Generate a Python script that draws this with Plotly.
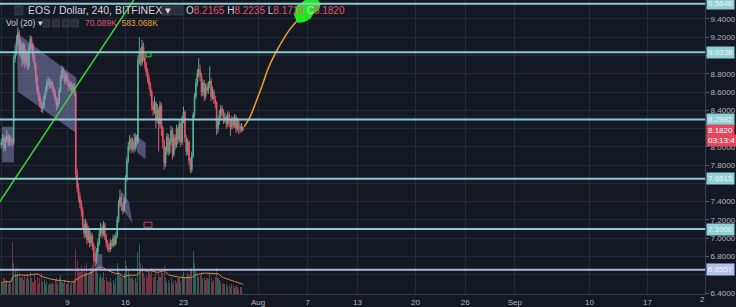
import pandas as pd
import plotly.graph_objects as go

# ---------------- data (4h candles, EOS/USD, BITFINEX) ----------------
start_time = "2018-07-01 00:00"
first_open = 8.02
closes = [
    8.05, 8.10, 7.99, 8.08, 8.12, 8.04,
    8.10, 8.06, 8.04, 8.97, 9.05, 9.15,
    9.25, 9.05, 9.12, 8.95, 9.10, 8.92,
    9.02, 8.88, 9.08, 9.18, 9.12, 8.98,
    8.90, 8.75, 8.62, 8.55, 8.48, 8.42,
    8.45, 8.55, 8.62, 8.70, 8.72, 8.68,
    8.70, 8.64, 8.60, 8.52, 8.45, 8.50,
    8.62, 8.75, 8.84, 8.80, 8.72, 8.78,
    8.70, 8.65, 8.68, 8.62, 8.66, 8.58,
    7.70, 7.55, 7.45, 7.38, 7.30, 7.15,
    7.05, 7.15, 6.98, 7.08, 6.95, 7.02,
    6.92, 6.80, 6.75, 6.85, 6.95, 7.05,
    7.10, 7.05, 7.15, 7.02, 6.95, 6.90,
    6.88, 6.95, 6.92, 7.00, 6.94, 7.02,
    7.20, 7.38, 7.45, 7.35, 7.30, 7.40,
    7.65, 7.85, 8.00, 8.08, 7.98, 8.05,
    7.98, 8.10, 8.05, 8.95, 9.02, 8.92,
    9.10, 8.98, 8.90, 8.82, 8.75, 8.68,
    8.60, 8.45, 8.40, 8.48, 8.30, 8.40,
    8.25, 8.45, 8.20, 8.05, 7.82, 7.95,
    8.11, 7.95, 8.05, 8.18, 7.92, 8.10,
    8.02, 8.20, 8.08, 8.25, 8.05, 8.30,
    8.38, 8.10, 7.95, 8.05, 7.85, 7.75,
    7.90, 8.35, 8.55, 8.70, 8.80, 8.84,
    8.78, 8.60, 8.70, 8.55, 8.65, 8.62,
    8.68, 8.72, 8.55, 8.60, 8.52, 8.48,
    8.20, 8.28, 8.35, 8.42, 8.38, 8.30,
    8.32, 8.25, 8.35, 8.26, 8.22, 8.30,
    8.24, 8.32, 8.20, 8.28, 8.22, 8.19,
    8.2165, 8.182,
]
highs = [
    8.09, 8.14, 8.13, 8.11, 8.18, 8.14,
    8.13, 8.12, 8.09, 9.00, 9.12, 9.22,
    9.31, 9.28, 9.18, 9.15, 9.14, 9.13,
    9.06, 9.05, 9.12, 9.22, 9.21, 9.14,
    9.01, 8.93, 8.79, 8.66, 8.59, 8.52,
    8.49, 8.58, 8.66, 8.74, 8.77, 8.75,
    8.74, 8.72, 8.67, 8.63, 8.55, 8.54,
    8.65, 8.79, 8.89, 8.87, 8.83, 8.82,
    8.80, 8.74, 8.72, 8.71, 8.70, 8.69,
    8.61, 7.76, 7.60, 7.50, 7.42, 7.34,
    7.20, 7.21, 7.18, 7.13, 7.11, 7.06,
    7.05, 6.95, 6.84, 6.89, 6.99, 7.09,
    7.17, 7.14, 7.19, 7.17, 7.05, 6.98,
    6.94, 6.99, 6.98, 7.04, 7.03, 7.06,
    7.24, 7.42, 7.53, 7.49, 7.39, 7.44,
    7.69, 7.89, 8.05, 8.13, 8.11, 8.10,
    8.08, 8.15, 8.13, 9.00, 9.20, 9.08,
    9.17, 9.14, 9.02, 8.93, 8.86, 8.79,
    8.71, 8.63, 8.50, 8.55, 8.50, 8.47,
    8.43, 8.50, 8.48, 8.23, 8.08, 8.00,
    8.15, 8.14, 8.09, 8.23, 8.21, 8.14,
    8.13, 8.24, 8.22, 8.29, 8.27, 8.34,
    8.44, 8.40, 8.13, 8.09, 8.07, 7.88,
    7.95, 8.38, 8.59, 8.75, 8.85, 8.97,
    8.90, 8.81, 8.74, 8.73, 8.69, 8.70,
    8.72, 8.88, 8.75, 8.66, 8.63, 8.56,
    8.50, 8.32, 8.40, 8.46, 8.45, 8.41,
    8.37, 8.35, 8.39, 8.38, 8.30, 8.34,
    8.33, 8.36, 8.35, 8.32, 8.31, 8.25,
    8.26, 8.2235,
]
lows = [
    7.98, 8.02, 7.95, 7.96, 8.05, 8.00,
    8.01, 8.02, 8.00, 8.02, 8.92, 9.00,
    9.10, 9.00, 8.98, 8.88, 8.90, 8.86,
    8.88, 8.84, 8.85, 9.04, 9.06, 8.93,
    8.84, 8.70, 8.58, 8.50, 8.43, 8.38,
    8.37, 8.42, 8.52, 8.59, 8.66, 8.63,
    8.64, 8.60, 8.55, 8.48, 8.40, 8.42,
    8.47, 8.59, 8.72, 8.75, 8.68, 8.69,
    8.66, 8.61, 8.62, 8.58, 8.59, 8.55,
    7.65, 7.50, 7.40, 7.33, 7.24, 7.10,
    7.00, 7.01, 6.93, 6.95, 6.90, 6.91,
    6.87, 6.74, 6.69, 6.72, 6.82, 6.92,
    7.02, 7.00, 7.02, 6.98, 6.90, 6.86,
    6.84, 6.85, 6.88, 6.90, 6.91, 6.92,
    7.00, 7.17, 7.34, 7.30, 7.26, 7.28,
    7.38, 7.62, 7.82, 7.96, 7.93, 7.95,
    7.93, 7.95, 8.01, 8.03, 8.90, 8.88,
    8.89, 8.94, 8.85, 8.77, 8.70, 8.63,
    8.55, 8.40, 8.34, 8.36, 8.20, 8.26,
    7.95, 8.20, 8.12, 7.98, 7.75, 7.78,
    7.91, 7.90, 7.92, 8.02, 7.86, 7.89,
    7.97, 7.99, 8.03, 8.05, 8.00, 8.02,
    8.26, 8.05, 7.90, 7.91, 7.80, 7.71,
    7.72, 7.88, 8.32, 8.52, 8.66, 8.76,
    8.72, 8.55, 8.56, 8.50, 8.52, 8.58,
    8.58, 8.64, 8.50, 8.52, 8.47, 8.42,
    8.13, 8.15, 8.24, 8.31, 8.33, 8.25,
    8.26, 8.20, 8.22, 8.21, 8.12, 8.19,
    8.20, 8.21, 8.15, 8.17, 8.14, 8.15,
    8.16, 8.1719,
]
volumes_k = [
    700, 550, 900, 650, 800, 600,
    750, 600, 3000, 1800, 1400, 1100,
    1500, 1200, 900, 1000, 800, 1100,
    950, 1200, 850, 1300, 900, 700,
    1100, 800, 1000, 650, 900, 1200,
    700, 850, 600, 750, 500, 650,
    600, 700, 550, 800, 950, 600,
    900, 1100, 700, 650, 800, 550,
    600, 750, 500, 650, 700, 900,
    2600, 1900, 1500, 1300, 1700, 1400,
    1600, 1200, 1800, 1100, 1300, 1500,
    1700, 2200, 2800, 1400, 1200, 1000,
    1100, 900, 1300, 800, 1000, 750,
    700, 900, 650, 800, 600, 950,
    1800, 1500, 1100, 900, 1000, 1200,
    1900, 1600, 1400, 1100, 900, 1000,
    800, 900, 700, 2400, 2900, 1800,
    1600, 1200, 1000, 1100, 900, 1300,
    1100, 1500, 900, 1000, 1200, 800,
    1300, 1000, 1400, 1200, 1600, 900,
    700, 800, 650, 900, 600, 750,
    800, 650, 900, 1000, 700, 1100,
    1300, 900, 1000, 1200, 1100, 1400,
    1500, 2500, 1800, 1400, 1200, 1000,
    1100, 1300, 900, 1000, 800, 950,
    850, 1200, 900, 700, 800, 1000,
    1500, 900, 800, 700, 600, 650,
    550, 600, 450, 500, 400, 550,
    500, 350, 450, 400, 300, 380,
    420, 70.089,
]

# horizontal levels drawn on the chart
levels = [9.5646, 9.0338, 8.2992, 7.6515, 7.1000, 6.6557]
last_price = 8.1820

# price axis ticks (labels hidden under level boxes left blank)
price_ticks = [6.4, 6.6, 6.8, 7.0, 7.2, 7.4, 7.6, 7.8, 8.0, 8.2, 8.4, 8.6, 8.8, 9.0, 9.2, 9.4]
price_tick_text = ["6.4000", "", "6.8000", "7.0000", "7.2000", "7.4000", "", "7.8000",
                   "8.0000", "", "8.4000", "8.6000", "8.8000", "", "9.2000", "9.4000"]

# x-axis ticks
tick_dates = ["2018-07-01", "2018-07-09", "2018-07-16", "2018-07-23", "2018-08-01",
              "2018-08-07", "2018-08-13", "2018-08-20", "2018-08-26", "2018-09-01",
              "2018-09-10", "2018-09-17"]
tick_text = ["Jul", "9", "16", "23", "Aug", "7", "13", "20", "26", "Sep", "10", "17"]
edge_tick_text = "2"

# user drawings (day offsets from start_time, prices)
box1_days, box1_prices = [0.09, 1.53], [7.83, 8.22]
channel_days, channel_prices = [1.89, 9.08, 8.96, 2.01], [9.247, 8.756, 8.156, 8.604]
box2_days, box2_prices = [11.47, 12.19], [6.662, 6.826]
flag1_days, flag1_prices = [14.51, 15.43, 15.83, 14.83], [7.516, 7.393, 7.164, 7.298]
flag2_days, flag2_prices = [15.83, 17.43, 17.43, 16.43], [8.153, 8.044, 7.862, 7.935]
trend_days, trend_prices = [-0.5, 17.0], [7.356, 9.745]
proj_days = [29.33, 30.05, 30.77, 31.49, 32.21, 33.05, 34.01, 34.97, 35.93, 36.53]
proj_prices = [8.222, 8.331, 8.495, 8.669, 8.855, 9.018, 9.171, 9.302, 9.400, 9.455]
blob_days = [35.81, 35.45, 35.81, 36.41, 37.01, 37.97, 38.44, 38.20, 37.60, 37.24, 36.53]
blob_prices = [9.367, 9.455, 9.542, 9.575, 9.62, 9.62, 9.564, 9.498, 9.465, 9.411, 9.378]
gbox_days, gbox_prices = [17.47, 18.07], [8.985, 9.029]
rbox_days, rbox_prices = [17.23, 18.19], [7.120, 7.175]

# ---------------- build ----------------
t0 = pd.Timestamp(start_time)
times = pd.date_range(t0, periods=len(closes), freq="4h")
opens = [first_open] + closes[:-1]


def T(days):
    return [t0 + pd.to_timedelta(d, unit="D") for d in days]


BG = "#141823"
GRID = "#252a37"
TXT = "#b2b5be"
UP = "#53b08c"
DN = "#e0566a"
FONT = "Liberation Sans"

vol_colors = ["rgba(214,78,98,0.5)" if c < o else "rgba(70,170,140,0.5)" for o, c in zip(opens, closes)]
vol_ma = pd.Series(volumes_k).rolling(20, min_periods=1).mean()

fig = go.Figure()
fig.add_trace(go.Bar(x=times, y=volumes_k, marker=dict(color=vol_colors, line=dict(width=0)),
                     width=4 * 3600 * 1000 * 0.8, yaxis="y", hoverinfo="skip"))
fig.add_trace(go.Scatter(x=times, y=vol_ma, mode="lines", line=dict(color="#d98b3a", width=1),
                         yaxis="y", hoverinfo="skip"))


def poly(days, prices):
    return T(list(days) + [days[0]]), list(prices) + [prices[0]]


for dd, pp in [(box1_days, box1_prices), (box2_days, box2_prices)]:
    xs = T([dd[0], dd[1], dd[1], dd[0], dd[0]])
    ys = [pp[0], pp[0], pp[1], pp[1], pp[0]]
    fig.add_trace(go.Scatter(x=xs, y=ys, mode="lines", fill="toself",
                             fillcolor="rgba(150,152,210,0.45)", line=dict(width=0),
                             yaxis="y2", hoverinfo="skip"))
for dd, pp in [(channel_days, channel_prices), (flag1_days, flag1_prices), (flag2_days, flag2_prices)]:
    xs, ys = poly(dd, pp)
    fig.add_trace(go.Scatter(x=xs, y=ys, mode="lines", fill="toself",
                             fillcolor="rgba(150,152,210,0.45)", line=dict(width=0),
                             yaxis="y2", hoverinfo="skip"))

fig.add_trace(go.Candlestick(
    x=times, open=opens, high=highs, low=lows, close=closes, yaxis="y2",
    increasing=dict(line=dict(color=UP, width=1), fillcolor=UP),
    decreasing=dict(line=dict(color=DN, width=1), fillcolor=DN),
    whiskerwidth=0, hoverinfo="skip"))

fig.add_trace(go.Scatter(x=T(trend_days), y=trend_prices, mode="lines",
                         line=dict(color="#3cd23c", width=1.5), yaxis="y2", hoverinfo="skip"))
fig.add_trace(go.Scatter(x=T(proj_days), y=proj_prices, mode="lines", line_shape="spline",
                         line=dict(color="#f0a02c", width=1.5), yaxis="y2", hoverinfo="skip"))
bx, by = poly(blob_days, blob_prices)
fig.add_trace(go.Scatter(x=bx, y=by, mode="lines", fill="toself", fillcolor="#22e622",
                         line=dict(color="#22e622", width=2),
                         yaxis="y2", hoverinfo="skip"))

shapes = []
level_cols = ["#8ccbd4"] * 5 + ["#a9b6e6"]
for v, c in zip(levels, level_cols):
    shapes.append(dict(type="line", xref="paper", x0=0, x1=1, yref="y2", y0=v, y1=v,
                       line=dict(color=c, width=2), layer="above"))
gx = T(gbox_days)
shapes.append(dict(type="rect", xref="x", yref="y2", x0=gx[0], x1=gx[1], y0=gbox_prices[0],
                   y1=gbox_prices[1], line=dict(color="#3fcf50", width=1)))
rx = T(rbox_days)
shapes.append(dict(type="rect", xref="x", yref="y2", x0=rx[0], x1=rx[1], y0=rbox_prices[0],
                   y1=rbox_prices[1], line=dict(color="#d0404f", width=1)))

W, H = 710.0, 295.0


def px(x):
    return x / W


def py(y):
    return 1 - y / H


# small toolbar icons
for x0, x1, y0, y1 in [(15, 23, 6, 15), (163, 173, 6, 15), (175, 184, 6, 15),
                       (43, 50, 20, 27), (53, 60, 20, 27), (63, 70, 20, 27), (72, 79, 20, 27)]:
    shapes.append(dict(type="rect", xref="paper", yref="paper", x0=px(x0), x1=px(x1),
                       y0=py(y1), y1=py(y0), line=dict(color="#3b404e", width=1),
                       fillcolor="#2a2e3a"))

annotations = []
annotations.append(dict(xref="paper", yref="paper", x=px(26), y=py(10.5), xanchor="left",
                        yanchor="middle", showarrow=False,
                        text="EOS / Dollar, 240, BITFINEX ▾",
                        font=dict(family=FONT, size=10.5, color="#d1d4dc")))
ohlc = ("O<span style='color:%s'>8.2165</span> H<span style='color:%s'>8.2235</span> "
        "L<span style='color:%s'>8.1719</span> C<span style='color:%s'>8.1820</span>") % (DN, DN, DN, DN)
annotations.append(dict(xref="paper", yref="paper", x=px(185), y=py(10.5), xanchor="left",
                        yanchor="middle", showarrow=False, text=ohlc,
                        font=dict(family=FONT, size=10, color="#d1d4dc")))
annotations.append(dict(xref="paper", yref="paper", x=px(4), y=py(23.5), xanchor="left",
                        yanchor="middle", showarrow=False, text="Vol (20) ▾",
                        font=dict(family=FONT, size=8.5, color="#d1d4dc")))
annotations.append(dict(xref="paper", yref="paper", x=px(84), y=py(23.5), xanchor="left",
                        yanchor="middle", showarrow=False,
                        text="<span style='color:%s'>70.089K</span>  <span style='color:#e8a23c'>583.068K</span>" % DN,
                        font=dict(family=FONT, size=8.5, color=DN)))
annotations.append(dict(xref="paper", yref="paper", x=px(707), y=-6 / H, xanchor="center",
                        yanchor="middle", showarrow=False, text=edge_tick_text,
                        font=dict(family=FONT, size=8, color=TXT)))

for v, c in zip(levels, ["#8fd0d9"] * 5 + ["#b3c0ee"]):
    annotations.append(dict(xref="paper", yref="y2", x=1, y=v, xanchor="left", yanchor="middle",
                            xshift=1, showarrow=False, text="%.4f" % v, bgcolor=c, borderpad=1,
                            font=dict(family=FONT, size=8, color="#eef6f8")))
annotations.append(dict(xref="paper", yref="y2", x=1, y=last_price, xanchor="left",
                        yanchor="middle", xshift=1, showarrow=False, text="%.4f" % last_price,
                        bgcolor="#e2475c", borderpad=1, font=dict(family=FONT, size=8, color="#ffffff")))
annotations.append(dict(xref="paper", yref="y2", x=1, y=last_price, xanchor="left",
                        yanchor="middle", xshift=1, yshift=-10, showarrow=False, text="03:13:4",
                        bgcolor="#e2475c", borderpad=1, font=dict(family=FONT, size=8, color="#ffffff")))

x_start = t0 + pd.to_timedelta(-0.151, unit="D")
x_end = t0 + pd.to_timedelta(84.95, unit="D")

fig.update_layout(
    width=736, height=307, margin=dict(l=0, r=26, t=0, b=12),
    paper_bgcolor=BG, plot_bgcolor=BG, showlegend=False,
    font=dict(family=FONT, size=8, color=TXT),
    bargap=0,
    xaxis=dict(type="date", range=[x_start, x_end], tickvals=tick_dates, ticktext=tick_text,
               showgrid=True, gridcolor=GRID, gridwidth=1, zeroline=False,
               showline=True, linecolor="#3a3f4e", ticks="", ticklen=2,
               tickfont=dict(family=FONT, size=8, color=TXT),
               rangeslider=dict(visible=False), fixedrange=True),
    yaxis=dict(range=[0, 17000], visible=False, showgrid=False, fixedrange=True),
    yaxis2=dict(overlaying="y", side="right", range=[6.389, 9.607],
                tickvals=price_ticks, ticktext=price_tick_text,
                showgrid=True, gridcolor=GRID, zeroline=False,
                showline=True, linecolor="#3a3f4e", ticks="outside", ticklen=3,
                tickcolor="#5a5f6e", tickfont=dict(family=FONT, size=8, color=TXT),
                fixedrange=True),
    shapes=shapes, annotations=annotations,
)

fig.write_html("out.html")
